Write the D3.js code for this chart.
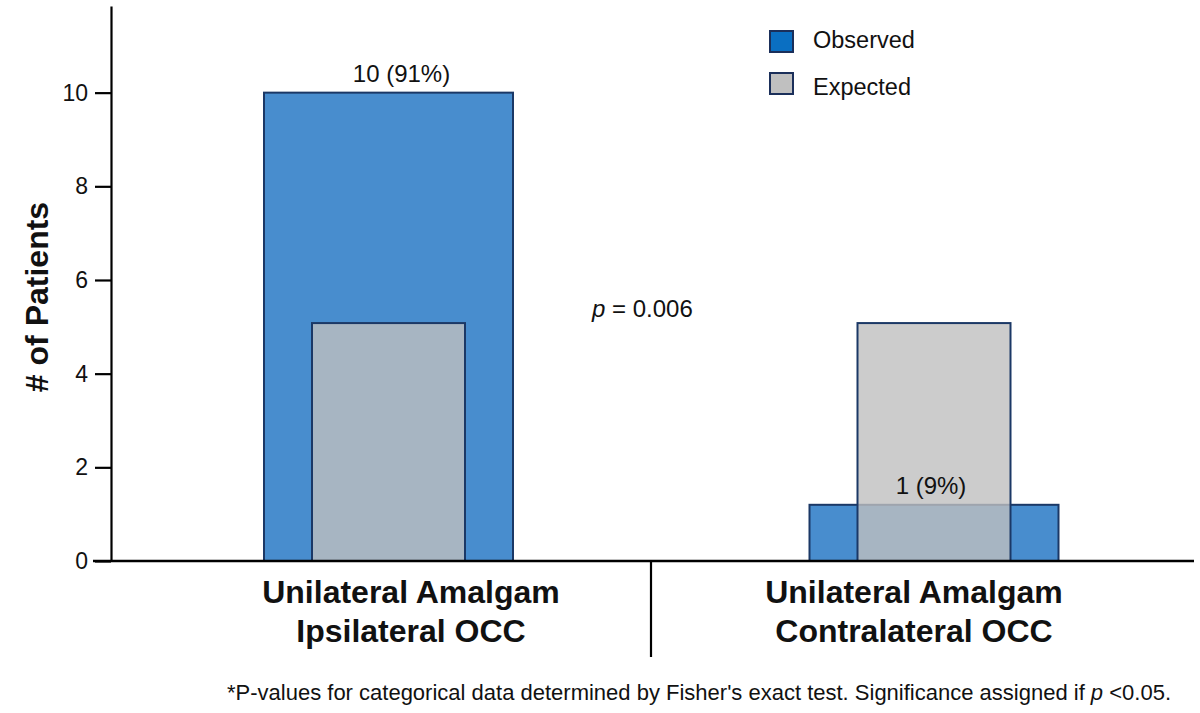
<!DOCTYPE html>
<html>
<head>
<meta charset="utf-8">
<script src="https://cdn.jsdelivr.net/npm/d3@7"></script>
<style>
  body { margin: 0; background: #fff; }
  text { font-family: "Liberation Sans", Arial, sans-serif; fill: #111; }
</style>
</head>
<body>
<svg id="canvas" width="1200" height="713"></svg>
<script>
// data
let categories = ['Ipsilateral', 'Contralateral']
let categoryLines = [
    ['Unilateral Amalgam', 'Ipsilateral OCC'],
    ['Unilateral Amalgam', 'Contralateral OCC']
]
let observed = [10, 1.2]
let expected = [5.08, 5.08]
let valueLabels = ['10 (91%)', '1 (9%)']
let yTicks = [0, 2, 4, 6, 8, 10]
let legendNames = ['Observed', 'Expected']

let svg = d3.select('#canvas')

let y = d3.scaleLinear().domain([0, 11.85]).range([561, 6])
let x = d3.scalePoint().domain(categories).range([388.5, 934])
let xLabel = d3.scalePoint().domain(categories).range([411, 914])

let obsWidth = 249
let expWidth = 153

// observed bars
svg.selectAll('rect.obs')
    .data(categories)
    .enter()
    .append('rect')
    .attr('class', 'obs')
    .attr('x', (d) => x(d) - obsWidth / 2)
    .attr('y', (d, i) => y(observed[i]))
    .attr('width', obsWidth)
    .attr('height', (d, i) => y(0) - y(observed[i]))
    .attr('fill', '#488dce')
    .attr('stroke', '#1b3866')
    .attr('stroke-width', 2)

// expected bars, semi transparent grey on top
svg.selectAll('rect.exp')
    .data(categories)
    .enter()
    .append('rect')
    .attr('class', 'exp')
    .attr('x', (d) => x(d) - expWidth / 2)
    .attr('y', (d, i) => y(expected[i]))
    .attr('width', expWidth)
    .attr('height', (d, i) => y(0) - y(expected[i]))
    .attr('fill', '#bfbfbf')
    .attr('fill-opacity', 0.8)
    .attr('stroke', '#1b3866')
    .attr('stroke-width', 2)

// value labels
svg.selectAll('text.val')
    .data(categories)
    .enter()
    .append('text')
    .attr('class', 'val')
    .attr('x', (d, i) => x(d) + (i === 0 ? 13 : -3))
    .attr('y', (d, i) => y(observed[i]) - 11)
    .attr('text-anchor', 'middle')
    .style('font-size', '24px')
    .text((d, i) => valueLabels[i])

// y axis
let yAxis = d3.axisLeft(y).tickValues(yTicks).tickSize(16).tickPadding(7).tickSizeOuter(0)
let gy = svg.append('g').attr('transform', 'translate(111,0)').call(yAxis)
gy.select('.domain').attr('stroke', '#000').attr('stroke-width', 2.2)
gy.selectAll('.tick line').attr('stroke', '#000').attr('stroke-width', 2.2)
gy.selectAll('.tick text')
    .style('font-size', '23px')
    .style('font-family', '"Liberation Sans", Arial, sans-serif')
    .attr('fill', '#111')

// x axis baseline and divider
svg.append('line')
    .attr('x1', 93).attr('x2', 1194)
    .attr('y1', y(0)).attr('y2', y(0))
    .attr('stroke', '#000').attr('stroke-width', 2.4)

svg.append('line')
    .attr('x1', 651).attr('x2', 651)
    .attr('y1', y(0)).attr('y2', 657)
    .attr('stroke', '#000').attr('stroke-width', 2.2)

// category labels
categories.forEach((c, i) => {
    let t = svg.append('text')
        .attr('x', xLabel(c))
        .attr('y', 603)
        .attr('text-anchor', 'middle')
        .style('font-size', '32px')
        .style('font-weight', 'bold')
    categoryLines[i].forEach((line, j) => {
        t.append('tspan')
            .attr('x', xLabel(c))
            .attr('dy', j === 0 ? 0 : 39)
            .text(line)
    })
})

// y title
svg.append('text')
    .attr('transform', 'translate(48,297) rotate(-90)')
    .attr('text-anchor', 'middle')
    .style('font-size', '32px')
    .style('font-weight', 'bold')
    .text('# of Patients')

// p value
let pText = svg.append('text')
    .attr('x', 592)
    .attr('y', 317)
    .style('font-size', '24px')
pText.append('tspan').style('font-style', 'italic').text('p')
pText.append('tspan').text(' = 0.006')

// legend
let legendFill = ['#0a6fc2', '#c0c0c0']
legendNames.forEach((name, i) => {
    let g = svg.append('g').attr('transform', 'translate(770,' + (31 + i * 42) + ')')
    g.append('rect')
        .attr('width', 23).attr('height', 21)
        .attr('fill', legendFill[i])
        .attr('stroke', '#1b2f5a')
        .attr('stroke-width', 2)
    g.append('text')
        .attr('x', 43).attr('y', 17 + i * 5)
        .style('font-size', '23.5px')
        .text(name)
})

// footnote
let foot = svg.append('text')
    .attr('x', 699)
    .attr('y', 700)
    .attr('text-anchor', 'middle')
    .style('font-size', '22px')
foot.append('tspan').text("*P-values for categorical data determined by Fisher's exact test. Significance assigned if ")
foot.append('tspan').style('font-style', 'italic').text('p')
foot.append('tspan').text(' <0.05.')
</script>
</body>
</html>
